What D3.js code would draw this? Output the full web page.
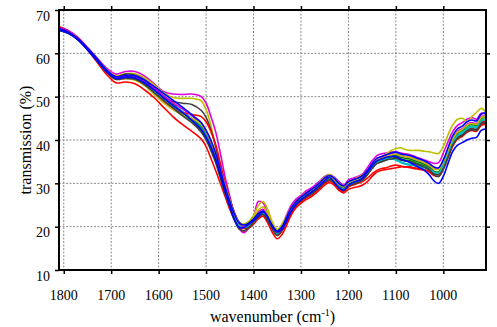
<!DOCTYPE html>
<html>
<head>
<meta charset="utf-8">
<script src="https://cdn.jsdelivr.net/npm/d3@7"></script>
</head>
<body style="margin:0">
<div id="chart"></div>
<script>
// wavenumbers (cm-1) shared by every spectrum
const wavenumber = [1810,1790,1770,1750,1730,1710,1690,1670,1650,1630,1610,1590,1570,1550,1530,1510,
  1500,1490,1480,1470,1460,1450,1440,1430,1420,1410,1400,1390,1380,1370,1360,1350,1340,1330,1320,1310,
  1300,1290,1280,1270,1260,1250,1240,1230,1220,1210,1200,1190,1180,1170,1160,1150,1140,1130,1120,1110,
  1100,1090,1080,1070,1060,1050,1040,1030,1020,1010,1000,990,980,970,960,950,940,930,920,910];

// transmission (%) of each sample
const green1 = [65.3,64.6,63.2,60.9,58.4,55.9,54.2,54.4,54.3,53.2,51.4,49.6,47.8,46.0,44.4,42.2,
  40.4,38.0,35.2,31.6,28.0,24.8,21.8,20.0,19.6,20.2,21.2,22.4,23.0,21.6,19.8,18.6,19.8,22.0,24.2,25.6,
  26.6,27.4,28.0,28.8,29.8,30.8,31.2,30.6,29.6,28.8,29.8,30.2,30.6,31.2,32.4,33.8,35.0,35.4,35.8,36.0,
  36.0,35.6,35.4,35.2,34.8,34.4,34.0,33.4,32.4,32.2,34.0,36.8,39.4,41.0,41.6,42.6,43.0,42.8,44.4,44.6];
const red1 = [66.2,65.2,63.4,60.8,58.0,55.2,53.2,53.4,53.0,51.6,49.8,47.6,45.4,43.6,42.0,40.2,
  38.5,35.8,33.0,30.0,27.0,24.0,21.6,19.6,19.0,19.6,20.6,21.8,22.4,20.8,18.6,17.2,18.2,20.4,22.8,24.4,
  25.4,26.2,26.8,27.6,28.6,29.6,30.2,29.6,28.4,27.8,28.6,29.0,29.2,29.6,30.4,31.6,32.6,33.0,33.2,33.4,
  33.6,33.8,33.8,33.8,33.6,33.4,33.2,32.8,32.2,32.2,34.0,36.6,39.2,40.8,41.4,42.4,42.8,42.6,44.2,44.2];
const cyan1 = [65.5,64.7,63.2,61.0,58.6,56.1,54.5,54.8,54.6,53.6,52.2,50.4,48.4,46.6,45.0,43.2,
  41.6,39.4,36.6,33.0,29.2,25.6,22.4,20.4,20.0,20.4,21.4,22.8,23.4,22.0,20.0,18.8,19.8,22.0,24.2,25.6,
  26.6,27.4,28.0,28.8,29.8,30.8,31.4,30.8,29.6,29.0,30.0,30.4,30.8,31.4,32.6,34.0,35.2,35.4,35.6,35.6,
  35.4,34.8,34.4,34.2,34.0,33.8,33.6,33.2,32.6,32.6,34.4,37.0,39.6,41.2,41.8,42.8,43.2,43.0,44.6,44.8];
const magenta1 = [66.0,65.2,63.7,61.4,59.0,56.6,55.2,55.8,55.8,54.8,53.0,51.2,50.6,50.5,50.6,50.0,
  48.5,45.5,42.0,37.0,31.5,27.0,22.5,19.5,18.6,19.8,22.0,25.8,25.5,23.0,20.5,19.0,20.2,22.8,25.0,26.4,
  27.2,28.2,28.8,29.6,30.6,31.6,32.0,31.4,30.4,29.6,30.8,31.2,31.6,32.2,33.6,35.2,36.4,36.8,37.0,37.2,
  37.3,37.0,36.8,36.6,36.2,35.8,35.4,35.0,34.6,34.8,37.0,39.6,42.0,43.4,44.0,44.8,45.2,44.8,46.2,46.0];
const yellow1 = [65.8,65.0,63.5,61.2,58.8,56.3,54.8,55.3,55.3,54.4,52.8,51.0,49.8,49.6,49.6,49.0,
  47.0,43.5,38.5,33.0,29.0,25.8,22.8,21.0,20.6,21.2,22.6,24.8,25.8,24.0,21.0,19.4,20.6,22.6,24.6,26.0,
  27.0,27.8,28.4,29.2,30.4,31.4,32.0,31.2,30.0,29.4,30.4,30.8,31.4,32.0,33.0,34.4,35.6,36.2,36.8,37.6,
  38.0,38.2,37.8,37.6,37.6,37.6,37.4,37.3,37.0,36.9,38.5,41.2,43.5,44.8,45.0,44.2,45.4,46.4,47.3,46.4];
const gray1 = [65.5,64.7,63.2,61.0,58.5,56.0,54.6,55.2,55.0,54.0,52.2,50.2,48.9,48.5,48.2,46.8,
  45.2,42.4,38.6,34.2,30.0,26.4,23.2,21.0,20.2,20.6,21.6,22.8,23.6,22.2,20.2,18.6,19.2,21.4,23.6,25.0,
  26.0,26.8,27.4,28.2,29.2,30.2,30.8,30.0,28.8,28.2,29.2,29.8,30.2,30.8,32.0,33.6,34.6,35.0,35.4,35.8,
  35.8,35.4,35.2,35.0,34.6,34.2,33.8,33.2,32.4,32.0,33.6,36.4,39.0,40.6,41.2,42.2,42.6,42.4,43.8,44.0];
const green2 = [65.6,64.8,63.3,61.1,58.6,56.0,54.4,54.7,54.5,53.4,51.8,50.0,48.2,46.4,44.8,42.8,
  41.0,38.8,36.0,32.4,28.8,25.4,22.2,20.2,19.8,20.2,21.2,22.4,23.2,21.8,19.8,18.6,19.6,21.8,24.0,25.4,
  26.4,27.2,27.8,28.6,29.6,30.6,31.2,30.6,29.4,28.8,29.8,30.2,30.6,31.2,32.4,34.0,35.0,35.4,35.8,36.2,
  36.4,36.0,35.8,35.6,35.2,34.8,34.4,33.8,32.8,32.6,34.4,37.2,40.0,41.6,42.2,43.2,43.6,43.4,45.0,45.2];
const red2 = [65.9,65.0,63.5,61.1,58.5,55.9,54.2,54.5,54.2,52.8,50.8,48.8,47.4,46.4,45.9,45.4,
  44.2,42.0,39.0,34.6,30.2,26.4,23.0,20.6,19.6,19.8,20.8,22.0,22.8,21.4,19.4,18.0,19.0,21.0,23.2,24.8,
  25.8,26.6,27.2,28.0,29.0,30.0,30.6,30.0,28.8,28.2,29.2,29.6,30.0,30.4,31.2,32.2,33.0,33.4,33.6,34.0,
  34.2,34.0,33.8,33.6,33.4,33.2,33.0,32.6,31.8,31.6,33.4,36.0,38.6,40.2,40.8,41.8,42.2,42.0,43.4,43.6];
const cyan2 = [65.5,64.7,63.2,60.9,58.4,55.8,54.2,54.4,54.2,53.0,51.2,49.4,47.8,46.4,44.6,42.6,
  40.8,38.4,35.6,32.2,28.6,25.4,22.4,20.4,19.8,20.2,21.0,22.4,23.2,21.8,19.6,18.4,19.4,21.6,23.8,25.2,
  26.2,27.0,27.6,28.4,29.4,30.4,31.0,30.4,29.2,28.6,29.6,30.0,30.4,31.0,32.2,33.6,34.8,35.2,35.6,35.8,
  35.6,35.0,34.6,34.4,34.2,34.0,33.8,33.4,32.6,32.4,34.2,36.8,39.4,41.0,41.6,42.6,43.0,42.8,44.4,44.6];
const magenta2 = [65.8,65.0,63.4,61.1,58.6,56.1,54.4,54.8,54.6,53.6,52.0,50.2,48.6,47.2,45.6,43.6,
  42.0,39.6,36.8,33.4,29.8,26.2,23.0,20.8,20.0,20.6,21.8,23.4,24.0,22.4,20.2,18.8,20.0,22.4,24.8,26.2,
  27.0,27.8,28.4,29.2,30.2,31.2,31.6,31.0,29.8,29.2,30.2,30.8,31.2,31.8,33.0,34.6,35.6,36.0,36.4,36.8,
  36.8,36.4,36.2,36.0,35.6,35.2,34.8,34.2,33.4,33.4,35.2,37.8,40.4,42.0,42.6,43.6,44.0,43.8,45.4,45.6];
const yellow2 = [65.6,64.8,63.3,61.0,58.4,55.8,54.0,54.2,53.8,52.6,50.6,48.6,47.0,45.8,45.0,43.6,
  42.0,39.8,36.8,33.2,29.6,26.0,22.8,20.8,20.4,21.0,22.2,23.8,24.6,23.0,20.6,19.2,20.2,22.2,24.4,25.8,
  26.8,27.6,28.2,29.0,30.0,31.0,31.6,31.0,29.8,29.2,30.2,30.6,31.0,31.6,32.8,34.2,35.4,35.8,36.2,36.6,
  36.8,36.4,36.2,36.0,35.6,35.2,34.8,34.2,33.4,33.2,35.0,37.6,40.2,41.8,42.4,43.4,43.8,43.6,45.2,45.4];
const gray2 = [65.4,64.6,63.1,60.9,58.3,55.7,54.0,54.2,54.0,52.8,51.0,49.2,47.4,45.6,44.0,41.8,
  40.0,37.6,34.8,31.2,27.6,24.4,21.4,19.4,19.0,19.8,21.0,22.2,22.8,21.4,19.4,18.0,19.2,21.4,23.6,25.0,
  26.0,26.8,27.4,28.2,29.2,30.2,30.8,30.2,29.0,28.4,29.4,29.8,30.2,30.8,32.0,33.4,34.6,35.0,35.4,35.6,
  35.8,35.4,35.2,35.0,34.6,34.2,33.8,33.2,32.0,31.6,33.2,36.0,38.8,40.4,41.0,42.0,42.4,42.2,43.8,44.0];
const blue2 = [65.7,64.9,63.4,61.2,58.8,56.2,54.6,54.9,54.8,53.8,52.4,50.8,49.2,47.6,45.8,44.0,
  42.2,40.0,37.0,33.2,29.2,25.8,22.8,20.8,20.4,20.8,21.8,23.0,23.6,22.2,20.2,19.0,20.0,22.2,24.4,25.8,
  26.8,27.6,28.4,29.2,30.2,31.2,31.8,31.2,30.0,29.4,30.4,30.8,31.2,31.8,33.0,34.6,35.8,36.2,36.6,37.0,
  37.2,36.8,36.6,36.4,36.0,35.6,35.2,34.6,33.8,33.6,35.4,38.2,41.0,42.6,43.2,44.2,44.6,44.4,46.0,46.2];
const blue1 = [65.4,64.6,63.1,60.8,58.3,55.8,54.2,54.5,54.3,53.2,51.6,49.8,48.0,46.4,44.6,42.4,
  40.6,38.4,35.6,32.0,28.2,24.8,21.6,19.8,19.8,20.6,21.4,22.4,23.4,22.2,20.0,18.8,19.4,21.4,23.6,25.2,
  26.2,27.0,27.8,28.6,29.6,30.6,31.4,30.2,29.0,28.4,29.6,30.2,30.6,31.2,32.6,34.0,35.2,35.6,36.0,36.2,
  36.2,35.6,35.2,34.8,34.2,33.6,33.0,32.0,30.6,30.0,31.6,34.6,37.4,38.8,39.4,40.0,40.4,40.6,42.2,42.6];

const spectra = [green1, red1, cyan1, magenta1, yellow1, gray1, green2, red2, cyan2, magenta2, yellow2, gray2, blue2, blue1];
const colors = ["#008000", "#ff0000", "#00bfbf", "#e000e0", "#bfbf00", "#404040", "#008000", "#ff0000", "#00bfbf", "#e000e0", "#bfbf00", "#404040", "#0000ff", "#0000ff"];

const xTicks = [1800, 1700, 1600, 1500, 1400, 1300, 1200, 1100, 1000];
const yTicks = [10, 20, 30, 40, 50, 60, 70];

var margin = {top: 10, right: 11, bottom: 57, left: 59},
  width = 497 - margin.left - margin.right,
  height = 327 - margin.top - margin.bottom;

var root = d3.select("#chart")
  .append("svg")
  .attr("width", width + margin.left + margin.right)
  .attr("height", height + margin.top + margin.bottom)
  .attr("font-family", "Liberation Serif, Times New Roman, serif");

var svg = root.append("g")
  .attr("transform", "translate(" + margin.left + "," + margin.top + ")");

var x = d3.scaleLinear().domain([1810, 910]).range([0, width]);
var y = d3.scaleLinear().domain([10, 70]).range([height, 0]);

// dotted grid
svg.append("g")
  .selectAll("line")
  .data(xTicks)
  .enter()
  .append("line")
  .attr("x1", d => x(d)).attr("x2", d => x(d))
  .attr("y1", 0).attr("y2", height)
  .attr("stroke", "#8a8a8a")
  .attr("stroke-dasharray", "2,1.5");

svg.append("g")
  .selectAll("line")
  .data(yTicks.slice(1, -1))
  .enter()
  .append("line")
  .attr("x1", 0).attr("x2", width)
  .attr("y1", d => y(d)).attr("y2", d => y(d))
  .attr("stroke", "#8a8a8a")
  .attr("stroke-dasharray", "2,1.5");

// spectra
var line = d3.line()
  .x((d, i) => x(wavenumber[i]))
  .y(d => y(d))
  .curve(d3.curveCatmullRom.alpha(0.5));

svg.append("g")
  .selectAll("path")
  .data(spectra)
  .enter()
  .append("path")
  .attr("d", line)
  .attr("fill", "none")
  .attr("stroke", (d, i) => colors[i])
  .attr("stroke-width", 1.6);

// axes: only the tick marks, outward on all four sides
function styleAxis(g) {
  g.select(".domain").remove();
  g.selectAll("text").remove();
  g.selectAll(".tick line").attr("stroke", "#000").attr("stroke-width", 1.5);
}

svg.append("g")
  .attr("transform", "translate(0," + height + ")")
  .call(d3.axisBottom(x).tickValues(xTicks).tickSize(4))
  .call(styleAxis);

svg.append("g")
  .call(d3.axisTop(x).tickValues(xTicks).tickSize(4))
  .call(styleAxis);

svg.append("g")
  .call(d3.axisLeft(y).tickValues(yTicks).tickSize(4))
  .call(styleAxis);

svg.append("g")
  .attr("transform", "translate(" + width + ",0)")
  .call(d3.axisRight(y).tickValues(yTicks.slice(1, -1)).tickSize(4))
  .call(styleAxis);

// frame
svg.append("rect")
  .attr("width", width)
  .attr("height", height)
  .attr("fill", "none")
  .attr("stroke", "#000")
  .attr("stroke-width", 2);

// tick labels
svg.append("g")
  .selectAll("text")
  .data(xTicks)
  .enter()
  .append("text")
  .attr("x", d => x(d))
  .attr("y", height + 30)
  .attr("text-anchor", "middle")
  .attr("font-size", 14)
  .text(d => d);

svg.append("g")
  .selectAll("text")
  .data(yTicks)
  .enter()
  .append("text")
  .attr("x", -9)
  .attr("y", d => y(d) + 10.5)
  .attr("text-anchor", "end")
  .attr("font-size", 14)
  .text(d => d);

// axis titles
var xTitle = svg.append("text")
  .attr("x", width / 2)
  .attr("y", height + 52)
  .attr("text-anchor", "middle")
  .attr("font-size", 16)
  .text("wavenumber (cm");
xTitle.append("tspan").attr("dy", -6).attr("font-size", 10).text("-1");
xTitle.append("tspan").attr("dy", 6).text(")");

svg.append("text")
  .attr("transform", "translate(" + (-28) + "," + (height / 2) + ") rotate(-90)")
  .attr("text-anchor", "middle")
  .attr("font-size", 16)
  .text("transmission (%)");
</script>
</body>
</html>
